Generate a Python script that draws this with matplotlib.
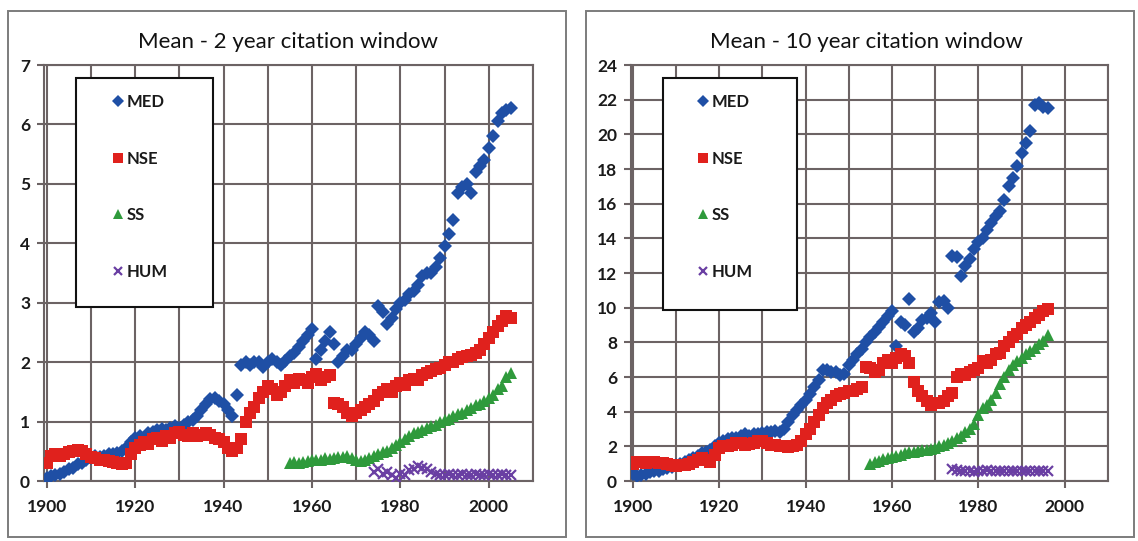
import numpy as np
import matplotlib
matplotlib.use("Agg")
import matplotlib.pyplot as plt
from matplotlib.patches import Rectangle

plt.rcParams['font.family'] = ['Lato', 'DejaVu Sans']

# ---------------- data: 2-year citation window ----------------
years2_med = list(range(1900, 2006))
med2 = [0.05, 0.08, 0.10, 0.12, 0.15, 0.20, 0.22, 0.28, 0.30, 0.35,
        0.38, 0.42, 0.40, 0.42, 0.45, 0.45, 0.47, 0.50, 0.55, 0.65,
        0.72, 0.75, 0.70, 0.80, 0.82, 0.85, 0.88, 0.85, 0.90, 0.92,
        0.90, 0.95, 1.00, 1.02, 1.10, 1.20, 1.30, 1.38, 1.40, 1.35,
        1.30, 1.20, 1.10, 1.45, 1.95, 2.00, 1.95, 2.00, 2.00, 1.92,
        2.00, 2.05, 2.00, 1.95, 2.02, 2.10, 2.15, 2.25, 2.35, 2.45,
        2.55, 2.05, 2.20, 2.35, 2.50, 2.30, 2.00, 2.10, 2.20, 2.20,
        2.30, 2.40, 2.50, 2.45, 2.35, 2.95, 2.85, 2.65, 2.75, 2.90,
        3.00, 3.05, 3.15, 3.20, 3.30, 3.45, 3.50, 3.50, 3.60, 3.75,
        3.95, 4.15, 4.40, 4.85, 4.95, 5.00, 4.85, 5.20, 5.30, 5.40,
        5.60, 5.80, 6.05, 6.20, 6.25, 6.28]
years2_nse = list(range(1900, 2006))
nse2 = [0.30, 0.42, 0.45, 0.42, 0.45, 0.48, 0.50, 0.52, 0.50, 0.45,
        0.40, 0.38, 0.35, 0.35, 0.33, 0.32, 0.30, 0.28, 0.30, 0.45,
        0.55, 0.60, 0.65, 0.62, 0.70, 0.72, 0.68, 0.75, 0.72, 0.80,
        0.82, 0.78, 0.75, 0.80, 0.75, 0.78, 0.80, 0.78, 0.72, 0.70,
        0.65, 0.55, 0.50, 0.55, 0.70, 1.00, 1.15, 1.25, 1.40, 1.50,
        1.60, 1.55, 1.45, 1.50, 1.60, 1.70, 1.65, 1.72, 1.70, 1.65,
        1.75, 1.80, 1.70, 1.75, 1.78, 1.32, 1.30, 1.25, 1.15, 1.10,
        1.15, 1.20, 1.25, 1.30, 1.35, 1.45, 1.50, 1.55, 1.50, 1.60,
        1.65, 1.62, 1.70, 1.72, 1.70, 1.78, 1.82, 1.85, 1.88, 1.90,
        1.95, 2.00, 2.00, 2.05, 2.08, 2.10, 2.12, 2.15, 2.20, 2.30,
        2.40, 2.50, 2.60, 2.70, 2.78, 2.75]
years2_ss = list(range(1955, 2006))
ss2 = [0.30, 0.32, 0.30, 0.32, 0.33, 0.35, 0.35, 0.36, 0.38, 0.37,
       0.38, 0.40, 0.40, 0.42, 0.38, 0.35, 0.33, 0.35, 0.38, 0.42,
       0.45, 0.48, 0.50, 0.55, 0.60, 0.65, 0.70, 0.75, 0.80, 0.82,
       0.85, 0.90, 0.92, 0.95, 1.00, 1.02, 1.05, 1.10, 1.12, 1.15,
       1.20, 1.22, 1.28, 1.30, 1.35, 1.40, 1.45, 1.55, 1.60, 1.75,
       1.82]
years2_hum = list(range(1974, 2006))
hum2 = [0.15, 0.20, 0.12, 0.15, 0.10, 0.05, 0.12, 0.10, 0.18, 0.20,
        0.25, 0.22, 0.20, 0.15, 0.12, 0.10, 0.10, 0.12, 0.10, 0.10,
        0.12, 0.10, 0.10, 0.12, 0.10, 0.10, 0.12, 0.10, 0.10, 0.12,
        0.10, 0.10]

# ---------------- data: 10-year citation window ----------------
years10 = list(range(1900, 1997))
med10 = [0.4, 0.3, 0.35, 0.4, 0.5, 0.55, 0.6, 0.7, 0.75, 0.8,
         0.9, 1.0, 1.1, 1.2, 1.3, 1.45, 1.6, 1.7, 1.8, 2.0,
         2.2, 2.3, 2.4, 2.5, 2.5, 2.6, 2.7, 2.6, 2.7, 2.7,
         2.75, 2.8, 2.8, 2.9, 2.85, 3.0, 3.4, 3.8, 4.1, 4.4,
         4.7, 5.0, 5.4, 5.8, 6.4, 6.4, 6.3, 6.3, 6.1, 6.2,
         6.7, 7.0, 7.3, 7.6, 8.0, 8.3, 8.6, 8.9, 9.2, 9.5,
         9.8, 7.8, 9.2, 9.0, 10.5, 8.6, 8.8, 9.3, 9.4, 9.7,
         9.2, 10.3, 10.4, 10.0, 13.0, 12.9, 11.8, 12.4, 12.8, 13.4,
         13.8, 14.0, 14.5, 14.9, 15.3, 15.6, 16.2, 17.0, 17.5, 18.2,
         18.9, 19.5, 20.2, 21.7, 21.8, 21.6, 21.5]
nse10 = [1.0, 1.1, 1.1, 1.05, 1.1, 1.1, 1.05, 1.05, 1.0, 0.9,
         0.85, 0.9, 0.95, 1.0, 1.1, 1.2, 1.3, 1.2, 1.1, 1.5,
         1.9, 2.0, 2.0, 2.1, 2.2, 2.2, 2.1, 2.15, 2.2, 2.3,
         2.3, 2.2, 2.1, 2.1, 2.0, 2.0, 1.95, 2.0, 2.1, 2.3,
         2.7, 3.0, 3.4, 3.8, 4.2, 4.5, 4.7, 4.9, 5.0, 5.1,
         5.2, 5.2, 5.3, 5.4, 6.6, 6.5, 6.3, 6.4, 6.8, 7.0,
         6.8, 7.1, 7.3, 7.2, 6.8, 5.7, 5.2, 4.9, 4.6, 4.4,
         4.5, 4.5, 4.6, 4.9, 5.1, 6.0, 6.2, 6.1, 6.3, 6.4,
         6.5, 6.9, 6.8, 7.0, 7.3, 7.4, 7.8, 8.0, 8.3, 8.5,
         8.8, 9.0, 9.2, 9.4, 9.6, 9.8, 9.9]
years10_ss = list(range(1955, 1997))
ss10 = [1.0, 1.1, 1.15, 1.25, 1.3, 1.4, 1.45, 1.5, 1.6, 1.65,
        1.7, 1.75, 1.8, 1.8, 1.85, 1.9, 2.0, 2.1, 2.2, 2.3,
        2.5, 2.6, 2.8, 3.0, 3.3, 3.8, 4.2, 4.4, 4.7, 5.1,
        5.6, 6.0, 6.4, 6.7, 6.9, 7.1, 7.3, 7.5, 7.7, 7.9,
        8.1, 8.4]
years10_hum = list(range(1974, 1997))
hum10 = [0.7, 0.65, 0.6, 0.55, 0.6, 0.5, 0.55, 0.6, 0.65, 0.6,
         0.6, 0.55, 0.6, 0.6, 0.55, 0.6, 0.6, 0.55, 0.6, 0.6,
         0.55, 0.6, 0.6]

series_names = ["MED", "NSE", "SS", "HUM"]
titles = ["Mean - 2 year citation window", "Mean - 10 year citation window"]

# ---------------- styling ----------------
C_MED = "#1f4fa5"
C_NSE = "#e0211d"
C_SS = "#2f9a3c"
C_HUM = "#6a3fa3"
GRID = "#6c6364"

W, H = 1138, 541
fig = plt.figure(figsize=(W / 100, H / 100), dpi=100)
fig.patch.set_facecolor("white")

def fx(px):
    return px / W

def fy(py):
    return (H - py) / H

# panel frames
for (x0, x1) in [(8, 566), (586, 1134)]:
    fig.patches.append(Rectangle((fx(x0), fy(537)), fx(x1) - fx(x0), fy(11) - fy(537),
                                 transform=fig.transFigure, fill=False,
                                 edgecolor="#7c7c7c", linewidth=1.4, zorder=0))

ax1 = fig.add_axes([fx(44), fy(481), fx(533) - fx(44), fy(65) - fy(481)])
ax2 = fig.add_axes([fx(631), fy(481), fx(1108) - fx(631), fy(65) - fy(481)])

def style(ax, ymax, ystep, xmin):
    ax.set_xlim(xmin, 2010)
    ax.set_ylim(0, ymax)
    ax.set_yticks(np.arange(0, ymax + 0.001, ystep))
    ax.set_xticks(np.arange(1900, 2001, 20))
    ax.set_xticks(np.arange(1910, 2011, 20), minor=True)
    ax.grid(True, which="both", axis="x", color=GRID, linewidth=1.5, zorder=0)
    ax.grid(True, which="major", axis="y", color=GRID, linewidth=1.5, zorder=0)
    ax.set_axisbelow(True)
    for s in ax.spines.values():
        s.set_color(GRID)
        s.set_linewidth(1.5)
    ax.tick_params(axis="both", which="major", direction="out", length=5,
                   width=1.5, color=GRID, labelsize=12.5)
    ax.tick_params(axis="x", which="minor", length=0)
    ax.tick_params(axis="x", pad=8)
    ax.tick_params(axis="y", pad=5)
    for lab in ax.get_xticklabels() + ax.get_yticklabels():
        lab.set_fontweight("bold")
        lab.set_color("#1a1a1a")

style(ax1, 7, 1, 1899.4)
style(ax2, 24, 2, 1899.6)

def draw(ax, data):
    (xm, ym), (xn, yn), (xs, ys), (xh, yh) = data
    ax.plot(xm, ym, linestyle="none", marker="D", markersize=7, color=C_MED,
            markeredgewidth=0, label=series_names[0], zorder=3)
    ax.plot(xn, yn, linestyle="none", marker="s", markersize=8.5, color=C_NSE,
            markeredgewidth=0, label=series_names[1], zorder=3)
    ax.plot(xs, ys, linestyle="none", marker="^", markersize=8.2, color=C_SS,
            markeredgewidth=0, label=series_names[2], zorder=3)
    ax.plot(xh, yh, linestyle="none", marker="x", markersize=7, color=C_HUM,
            markeredgewidth=1.6, label=series_names[3], zorder=3)

draw(ax1, [(years2_med, med2), (years2_nse, nse2), (years2_ss, ss2), (years2_hum, hum2)])
draw(ax2, [(years10, med10), (years10, nse10), (years10_ss, ss10), (years10_hum, hum10)])

def legend_box(ax, x0, x1, ytop, ybot, ax_left, ax_w, anchor_x):
    bx0 = (x0 - ax_left) / ax_w
    bx1 = (x1 - ax_left) / ax_w
    by0 = (481 - ybot) / 416
    by1 = (481 - ytop) / 416
    ax.add_patch(Rectangle((bx0, by0), bx1 - bx0, by1 - by0, transform=ax.transAxes,
                           facecolor="white", edgecolor="#111111", linewidth=1.5,
                           zorder=4, clip_on=False))
    leg = ax.legend(loc="upper left", bbox_to_anchor=((anchor_x - ax_left) / ax_w, (481 - 94) / 416),
                    frameon=False, prop={"size": 12, "weight": "bold"},
                    borderpad=0, borderaxespad=0,
                    handlelength=0.6, handletextpad=0.2, labelspacing=2.44,
                    markerscale=0.85)
    for t in leg.get_texts():
        t.set_color("#1a1a1a")
    leg.set_zorder(5)

legend_box(ax1, 76, 213, 78, 307, 44, 489, 113)
legend_box(ax2, 663, 797, 78, 310, 631, 477, 698)

fig.text(fx(288), fy(42), titles[0], ha="center", va="center", fontsize=16, color="#111111")
fig.text(fx(866), fy(42), titles[1], ha="center", va="center", fontsize=16, color="#111111")

fig.savefig("out.png", dpi=100, facecolor="white")
